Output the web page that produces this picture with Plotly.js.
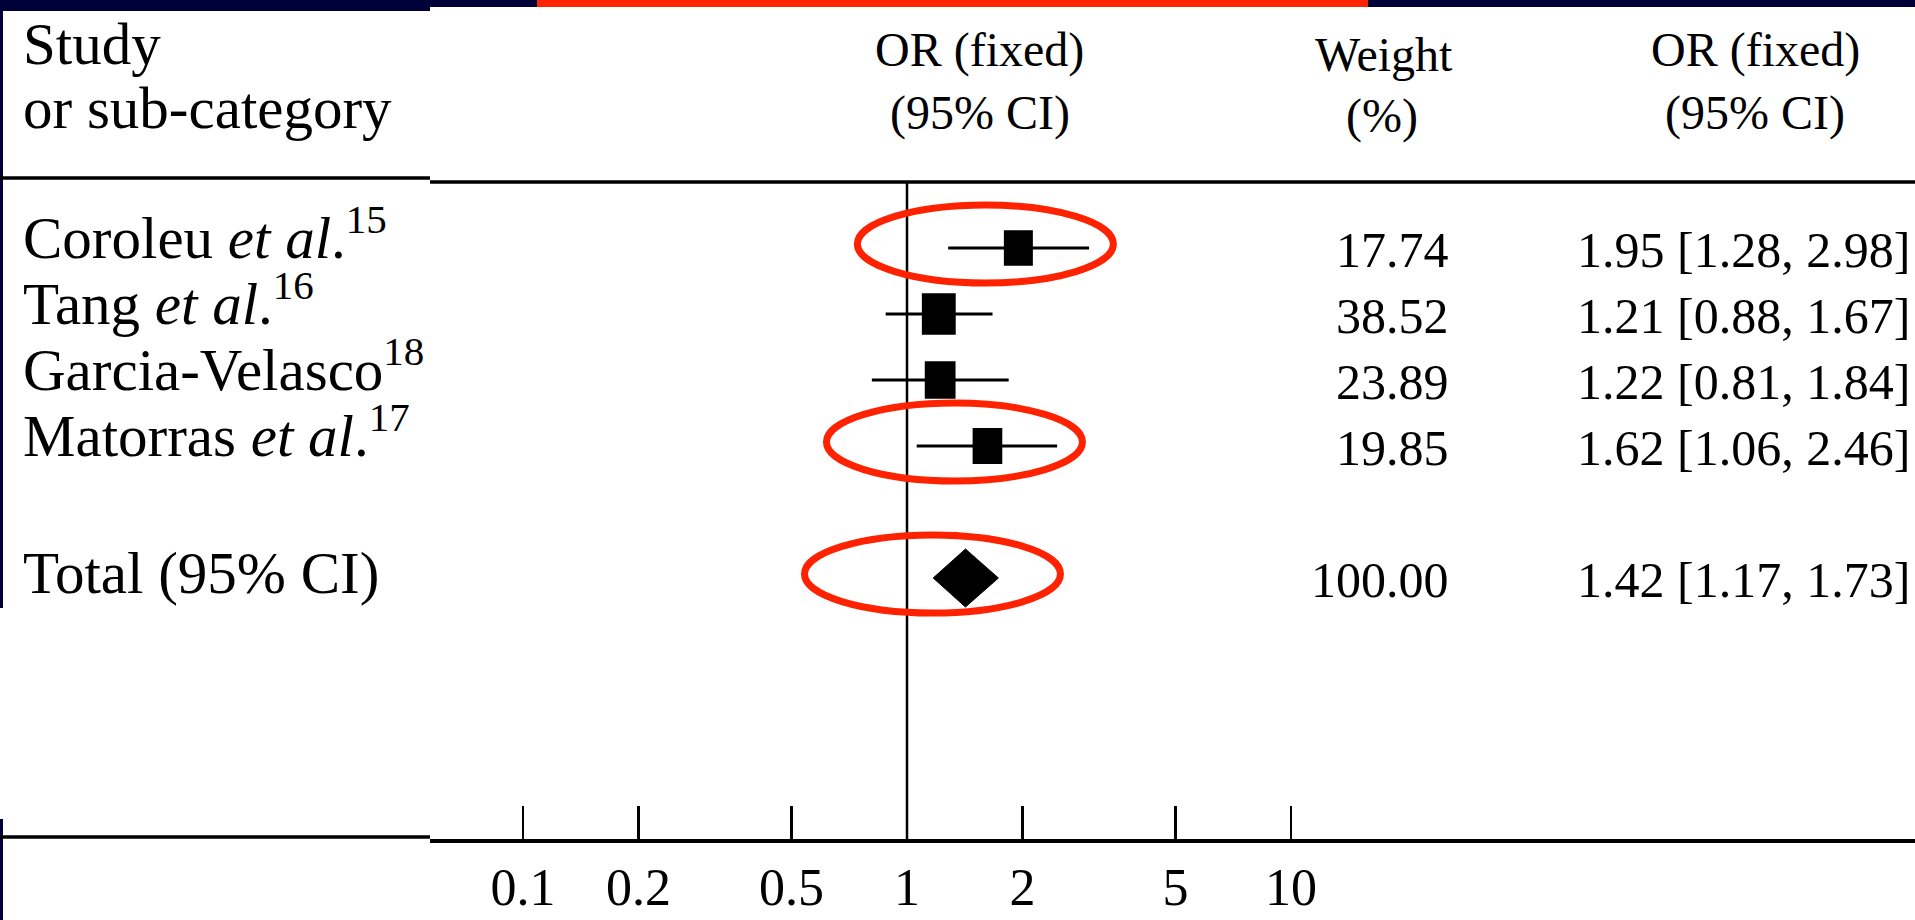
<!DOCTYPE html>
<html>
<head>
<meta charset="utf-8">
<script src="https://cdn.plot.ly/plotly-3.0.1.min.js"></script>
<style>
  html, body { margin: 0; padding: 0; background: #ffffff; }
  #chart { width: 1915px; height: 920px; }
</style>
</head>
<body>
<div id="chart"></div>
<script>
// ---------------- data ----------------
const studies   = ['Coroleu', 'Tang', 'Garcia-Velasco', 'Matorras'];
const refs      = ['15', '16', '18', '17'];
const hasEtAl   = [true, true, false, true];
const weights   = [17.74, 38.52, 23.89, 19.85];
const orValues  = [1.95, 1.21, 1.22, 1.62];
const ciLower   = [1.28, 0.88, 0.81, 1.06];
const ciUpper   = [2.98, 1.67, 1.84, 2.46];
const totalLabel  = 'Total (95% CI)';
const totalWeight = 100.00;
const totalOR     = 1.42;
const totalLower  = 1.17;
const totalUpper  = 1.73;
const highlighted = [0, 3];          // studies circled in red (plus the total)
const tickValues  = [0.1, 0.2, 0.5, 1, 2, 5, 10];
const tickLabels  = ['0.1', '0.2', '0.5', '1', '2', '5', '10'];
const headerLeft  = ['Study', 'or sub-category'];
const headerOR    = ['OR (fixed)', '(95% CI)'];
const headerW     = ['Weight', '(%)'];

// ---------------- layout constants ----------------
const W = 1915, H = 920;
const FONT = 'Liberation Serif, Times New Roman, serif';
const ROW_PX = 66, FIRST_ROW_PX = 248;
const X_LEFT_PX = 430, ONE_PX = 907, DECADE_PX = 384;
const NAVY = '#000038', RED = '#ff2200';
const LABEL_SIZE = 59, SUP_SIZE = 41, VALUE_SIZE = 50, HEAD_SIZE = 48;

const rows = studies.map((_, i) => i + 1);
const totalRow = studies.length + 2;

const yTop = 1 - FIRST_ROW_PX / ROW_PX;
const yBottom = yTop + H / ROW_PX;
const xr0 = (X_LEFT_PX - ONE_PX) / DECADE_PX;
const xr1 = (W - ONE_PX) / DECADE_PX;

const pX = p => p / W;
const pY = p => 1 - p / H;
// multiplicative factor on the log axis equal to a horizontal pixel offset
const pxFactor = p => Math.pow(10, p / DECADE_PX);

// ---------------- traces ----------------
const whiskers = {
  type: 'scatter', mode: 'markers',
  x: orValues, y: rows,
  marker: { size: 2, color: 'rgba(0,0,0,0)' },
  error_x: {
    type: 'data', symmetric: false,
    array: orValues.map((v, i) => ciUpper[i] - v),
    arrayminus: orValues.map((v, i) => v - ciLower[i]),
    color: '#000', thickness: 3, width: 0
  },
  hoverinfo: 'skip', showlegend: false
};

const dh = 29 / ROW_PX;
const diamond = {
  type: 'scatter', mode: 'lines',
  x: [totalLower, totalOR, totalUpper, totalOR, totalLower],
  y: [totalRow, totalRow - dh, totalRow, totalRow + dh, totalRow],
  fill: 'toself', fillcolor: '#000',
  line: { color: '#000', width: 1 },
  hoverinfo: 'skip', showlegend: false
};

// ---------------- shapes ----------------
const shapes = [];
// frame decoration
shapes.push({ type: 'rect', xref: 'paper', yref: 'paper', x0: 0, x1: pX(X_LEFT_PX), y0: pY(11), y1: 1, fillcolor: NAVY, line: { width: 0 } });
shapes.push({ type: 'rect', xref: 'paper', yref: 'paper', x0: pX(X_LEFT_PX), x1: 1, y0: pY(7), y1: 1, fillcolor: NAVY, line: { width: 0 } });
shapes.push({ type: 'rect', xref: 'paper', yref: 'paper', x0: pX(537), x1: pX(1368), y0: pY(7), y1: 1, fillcolor: RED, line: { width: 0 } });
shapes.push({ type: 'rect', xref: 'paper', yref: 'paper', x0: 0, x1: pX(3), y0: pY(608), y1: 1, fillcolor: NAVY, line: { width: 0 } });
shapes.push({ type: 'rect', xref: 'paper', yref: 'paper', x0: 0, x1: pX(3), y0: 0, y1: pY(819), fillcolor: NAVY, line: { width: 0 } });
// header rule and bottom rule
shapes.push({ type: 'line', xref: 'paper', yref: 'paper', x0: 0, x1: pX(X_LEFT_PX), y0: pY(178), y1: pY(178), line: { color: '#000', width: 3.5 } });
shapes.push({ type: 'line', xref: 'paper', yref: 'paper', x0: pX(X_LEFT_PX), x1: 1, y0: pY(182), y1: pY(182), line: { color: '#000', width: 3.5 } });
shapes.push({ type: 'line', xref: 'paper', yref: 'paper', x0: 0, x1: pX(X_LEFT_PX), y0: pY(837), y1: pY(837), line: { color: '#000', width: 3.5 } });
// line of no effect
shapes.push({ type: 'line', xref: 'x', yref: 'paper', x0: 1, x1: 1, y0: pY(182), y1: pY(840), line: { color: '#000', width: 2.5 } });
// study boxes (size from weight)
orValues.forEach((v, i) => {
  const w = 29 * Math.pow(weights[i] / weights[0], 0.2);
  const h = w * 1.22;
  shapes.push({
    type: 'rect', xref: 'x', yref: 'y',
    x0: v / pxFactor(w / 2), x1: v * pxFactor(w / 2),
    ysizemode: 'pixel', yanchor: rows[i], y0: -h / 2, y1: h / 2,
    fillcolor: '#000', line: { width: 0 }
  });
});
// red highlight ellipses
const ellipse = (xv, yv) => ({
  type: 'circle', xref: 'x', yref: 'y',
  x0: xv * pxFactor(-33 - 128), x1: xv * pxFactor(-33 + 128),
  ysizemode: 'pixel', yanchor: yv, y0: 4 - 39, y1: 4 + 39,
  line: { color: RED, width: 7 }
});
highlighted.forEach(i => shapes.push(ellipse(orValues[i], rows[i])));
shapes.push(ellipse(totalOR, totalRow));

// ---------------- text ----------------
const annotations = [];
function rowText(text, xpx, xanchor, row, size, off) {
  annotations.push({
    text: text, xref: 'paper', x: pX(xpx), xanchor: xanchor,
    yref: 'y', y: row, yanchor: 'bottom', yshift: -(off + 0.216 * size + 2),
    showarrow: false, font: { family: FONT, size: size, color: '#000' }
  });
}
function headText(text, xpx, xanchor, baseline, size) {
  annotations.push({
    text: text, xref: 'paper', x: pX(xpx), xanchor: xanchor,
    yref: 'paper', y: pY(baseline + 0.216 * size + 2), yanchor: 'bottom',
    showarrow: false, font: { family: FONT, size: size, color: '#000' }
  });
}
headText(headerLeft[0], 21, 'left', 64, LABEL_SIZE);
headText(headerLeft[1], 21, 'left', 128, LABEL_SIZE);
headText(headerOR[0], 979, 'center', 67, HEAD_SIZE);
headText(headerOR[1], 980, 'center', 130, HEAD_SIZE);
headText(headerW[0], 1384, 'center', 71, HEAD_SIZE);
headText(headerW[1], 1382, 'center', 133, HEAD_SIZE);
headText(headerOR[0], 1755, 'center', 67, HEAD_SIZE);
headText(headerOR[1], 1755, 'center', 130, HEAD_SIZE);

const fmtCI = (o, l, u) => o.toFixed(2) + ' [' + l.toFixed(2) + ', ' + u.toFixed(2) + ']';
studies.forEach((s, i) => {
  const etal = hasEtAl[i]
    ? ' <span style="font-style:italic;font-size:' + LABEL_SIZE + 'px">et al</span>.'
    : '';
  const label = s + etal + '<sup><span style="font-size:' + SUP_SIZE + 'px">' + refs[i] + '</span></sup>';
  rowText(label, 21, 'left', rows[i], LABEL_SIZE, 10);
  rowText(weights[i].toFixed(2), 1451, 'right', rows[i], VALUE_SIZE, 19);
  rowText(fmtCI(orValues[i], ciLower[i], ciUpper[i]), 1575, 'left', rows[i], VALUE_SIZE, 19);
});
rowText(totalLabel, 21, 'left', totalRow, LABEL_SIZE, 15);
rowText(totalWeight.toFixed(2), 1451, 'right', totalRow, VALUE_SIZE, 19);
rowText(fmtCI(totalOR, totalLower, totalUpper), 1575, 'left', totalRow, VALUE_SIZE, 19);

// ---------------- layout ----------------
const layout = {
  width: W, height: H,
  margin: { l: 0, r: 0, t: 0, b: 0, pad: 0 },
  paper_bgcolor: '#ffffff', plot_bgcolor: '#ffffff',
  showlegend: false,
  xaxis: {
    type: 'log', range: [xr0, xr1],
    domain: [X_LEFT_PX / W, 1],
    anchor: 'free', position: 1 - 840 / H,
    showline: true, linecolor: '#000', linewidth: 3.5,
    ticks: 'inside', ticklen: 33, tickwidth: 2.5, tickcolor: '#000',
    tickmode: 'array', tickvals: tickValues, ticktext: tickLabels,
    tickfont: { family: FONT, size: 52, color: '#000' },
    showgrid: false, zeroline: false, fixedrange: true
  },
  yaxis: {
    range: [yBottom, yTop], domain: [0, 1],
    visible: false, showgrid: false, zeroline: false, fixedrange: true
  },
  shapes: shapes,
  annotations: annotations
};

Plotly.newPlot('chart', [whiskers, diamond], layout, { staticPlot: true, displayModeBar: false });
</script>
</body>
</html>
